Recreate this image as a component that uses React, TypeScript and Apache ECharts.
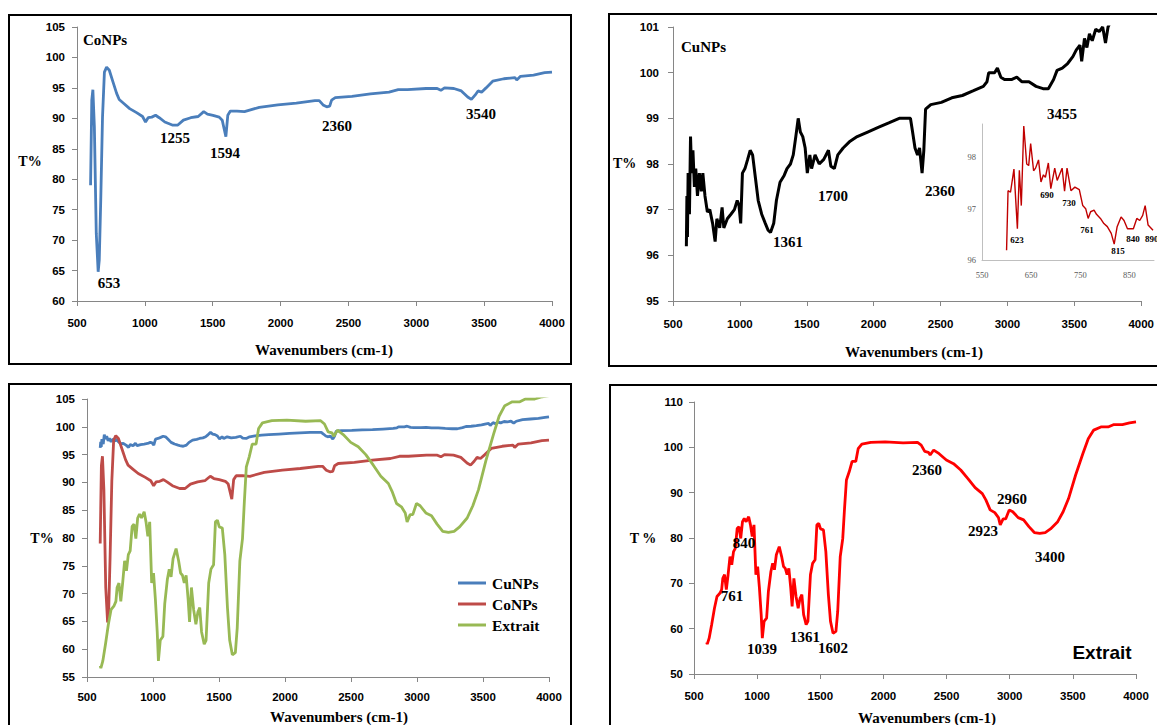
import React, { useEffect, useRef } from 'react';
import * as echarts from 'echarts';

// ---- Data ----
const coWave = [600, 609, 617, 628, 642, 656, 664, 675, 688, 702, 718, 738, 765, 792, 811, 847, 888, 942, 983, 1005, 1024, 1051, 1079, 1106, 1147, 1202, 1243, 1284, 1338, 1393, 1434, 1461, 1502, 1548, 1570, 1584, 1597, 1611, 1630, 1679, 1734, 1843, 1980, 2116, 2253, 2285, 2313, 2340, 2362, 2376, 2403, 2526, 2662, 2799, 2867, 2935, 3072, 3154, 3181, 3208, 3277, 3332, 3379, 3406, 3433, 3455, 3481, 3514, 3563, 3645, 3727, 3740, 3768, 3864, 3946, 4000];
const coT = [79.0, 93.0, 94.7, 88.6, 71.1, 64.8, 66.7, 76.6, 90.2, 97.6, 98.4, 97.9, 96.0, 94.1, 93.1, 92.4, 91.6, 90.9, 90.3, 89.4, 90.1, 90.2, 90.5, 90.1, 89.4, 88.9, 88.9, 89.7, 90.1, 90.3, 91.1, 90.7, 90.5, 90.2, 89.7, 88.3, 87.0, 90.5, 91.2, 91.2, 91.1, 91.8, 92.2, 92.5, 92.9, 92.9, 92.2, 91.9, 92.0, 93.0, 93.4, 93.6, 94.0, 94.3, 94.7, 94.7, 94.9, 94.9, 94.6, 95.0, 94.9, 94.5, 93.5, 93.1, 93.8, 94.5, 94.3, 95.0, 96.1, 96.5, 96.7, 96.3, 96.9, 97.1, 97.5, 97.6];

const cuWave = [600, 604, 608, 613, 623, 631, 639, 649, 660, 670, 683, 697, 712, 723, 739, 757, 775, 796, 815, 828, 849, 867, 880, 906, 933, 959, 980, 993, 1006, 1019, 1038, 1058, 1077, 1095, 1116, 1137, 1163, 1190, 1211, 1229, 1253, 1273, 1300, 1331, 1352, 1378, 1399, 1418, 1436, 1452, 1470, 1488, 1504, 1523, 1536, 1562, 1593, 1627, 1662, 1680, 1706, 1732, 1772, 1824, 1877, 1955, 2034, 2113, 2191, 2257, 2275, 2291, 2309, 2328, 2343, 2362, 2375, 2388, 2427, 2506, 2584, 2663, 2742, 2820, 2847, 2860, 2886, 2904, 2925, 2951, 2978, 3030, 3070, 3109, 3161, 3214, 3266, 3306, 3345, 3371, 3410, 3450, 3489, 3515, 3542, 3555, 3576, 3594, 3613, 3634, 3660, 3686, 3712, 3733, 3752, 3800, 3860, 3920, 3970, 4000];
const cuT = [96.2, 97.3, 96.4, 97.8, 96.9, 98.6, 97.8, 98.3, 97.5, 97.9, 97.3, 97.8, 97.4, 97.8, 97.3, 96.95, 97.0, 96.7, 96.3, 96.8, 96.6, 97.05, 96.6, 96.8, 96.9, 97.0, 97.2, 97.1, 96.7, 97.8, 97.9, 98.1, 98.3, 98.2, 97.7, 97.2, 96.9, 96.7, 96.55, 96.5, 96.7, 97.2, 97.6, 97.75, 97.9, 98.0, 98.2, 98.6, 99.0, 98.7, 98.6, 98.35, 97.8, 98.2, 97.9, 98.2, 98.0, 98.1, 98.3, 97.95, 97.9, 98.2, 98.35, 98.5, 98.6, 98.7, 98.8, 98.9, 99.0, 99.0, 99.0, 98.7, 98.35, 98.2, 98.35, 97.8, 98.3, 99.2, 99.3, 99.35, 99.45, 99.5, 99.6, 99.7, 99.8, 100.0, 100.0, 100.0, 100.1, 99.9, 99.85, 99.85, 99.9, 99.8, 99.8, 99.7, 99.65, 99.65, 99.85, 100.05, 100.1, 100.2, 100.35, 100.5, 100.6, 100.25, 100.75, 100.55, 100.85, 100.7, 100.95, 100.9, 101.0, 100.65, 101.0, 101.3, 101.4, 101.5, 101.7, 101.8];

const exWave = [600, 605, 620, 640, 662, 682, 705, 719, 728, 742, 756, 770, 785, 799, 813, 827, 842, 856, 870, 884, 898, 913, 933, 947, 961, 975, 990, 1004, 1018, 1032, 1041, 1055, 1075, 1089, 1109, 1123, 1137, 1152, 1175, 1194, 1209, 1223, 1237, 1251, 1266, 1277, 1291, 1308, 1325, 1340, 1354, 1368, 1388, 1402, 1422, 1439, 1459, 1473, 1488, 1502, 1525, 1544, 1564, 1581, 1601, 1624, 1638, 1658, 1678, 1692, 1707, 1729, 1752, 1781, 1800, 1829, 1900, 2014, 2156, 2270, 2299, 2327, 2356, 2370, 2398, 2441, 2498, 2555, 2612, 2669, 2726, 2783, 2811, 2845, 2882, 2911, 2925, 2948, 2968, 2996, 3024, 3067, 3110, 3152, 3195, 3238, 3281, 3323, 3380, 3423, 3466, 3522, 3579, 3622, 3665, 3722, 3779, 3821, 3892, 3949, 4000];
const exT = [57.0, 56.6, 57.9, 60.9, 64.5, 67.1, 67.8, 68.6, 71.1, 71.9, 68.6, 71.9, 75.9, 74.1, 77.0, 77.7, 82.1, 82.5, 79.9, 83.6, 84.3, 83.6, 84.7, 82.9, 80.3, 82.9, 71.9, 73.7, 69.0, 63.1, 57.9, 61.6, 62.3, 68.2, 72.6, 74.4, 73.0, 76.3, 78.1, 75.9, 73.7, 73.3, 71.9, 73.3, 69.0, 64.9, 71.1, 67.1, 64.5, 66.7, 67.5, 63.1, 60.9, 61.6, 71.9, 74.4, 75.2, 82.9, 83.2, 82.0, 81.8, 77.0, 67.5, 61.6, 59.0, 59.4, 63.8, 75.9, 79.9, 86.5, 92.8, 94.6, 96.9, 96.9, 99.7, 100.7, 101.1, 101.2, 101.0, 101.1, 100.5, 99.1, 98.9, 98.3, 99.4, 98.6, 97.2, 96.4, 95.0, 93.1, 91.1, 89.8, 88.4, 86.2, 85.6, 84.5, 82.9, 84.2, 84.2, 86.2, 85.8, 84.5, 84.0, 82.5, 81.2, 81.0, 81.2, 82.0, 83.6, 85.8, 88.7, 93.9, 98.6, 101.9, 103.8, 104.5, 104.5, 105.0, 105.0, 105.4, 105.6];

const inWave = [600, 603, 608, 615, 622, 626, 630, 635, 641, 645, 649, 655, 659, 665, 670, 675, 679, 685, 690, 698, 703, 713, 718, 723, 731, 739, 748, 755, 761, 766, 771, 778, 783, 791, 798, 805, 813, 819, 825, 833, 839, 846, 858, 865, 871, 877, 882, 888, 898];
const inT = [96.19, 97.35, 97.32, 97.77, 96.61, 97.75, 97.06, 98.61, 97.87, 97.84, 98.27, 97.74, 97.79, 97.95, 97.52, 97.66, 97.61, 97.89, 97.39, 97.79, 97.55, 97.79, 97.34, 97.79, 97.35, 97.42, 97.37, 97.06, 97.0, 96.81, 96.94, 96.97, 96.89, 96.81, 96.71, 96.65, 96.52, 96.31, 96.65, 96.84, 96.77, 96.61, 96.61, 96.81, 96.77, 96.87, 97.06, 96.68, 96.58];

const legendNames = ['CuNPs', 'CoNPs', 'Extrait'];

const SERIF = '"Liberation Serif", "Times New Roman", serif';
const SANS = '"Liberation Sans", Arial, sans-serif';
const AXIS_GRAY = '#868686';

const zip = (a: number[], b: number[]) => a.map((v, i) => [v, b[i]]);

function xAx(gridIndex: number, margin: number, extra: any = {}) {
  return {
    type: 'value', gridIndex, min: 500, max: 4000, interval: 500,
    axisLine: { show: true, onZero: false, lineStyle: { color: AXIS_GRAY, width: 1 } },
    axisTick: { show: true, length: 5, lineStyle: { color: AXIS_GRAY } },
    splitLine: { show: false },
    axisLabel: {
      margin, color: '#000', fontFamily: SANS, fontWeight: 'bold', fontSize: 11.5,
      formatter: (v: number) => String(v),
    },
    ...extra,
  };
}
function yAx(gridIndex: number, min: number, max: number, interval: number, margin: number, extra: any = {}) {
  return {
    type: 'value', gridIndex, min, max, interval,
    axisLine: { show: true, onZero: false, lineStyle: { color: AXIS_GRAY, width: 1 } },
    axisTick: { show: true, length: 5, lineStyle: { color: AXIS_GRAY } },
    splitLine: { show: false },
    axisLabel: {
      margin, color: '#000', fontFamily: SANS, fontWeight: 'bold', fontSize: 11.5,
      formatter: (v: number) => String(v),
    },
    ...extra,
  };
}

function txt(text: string, x: number, y: number, size = 15, align = 'center', family = SERIF, weight = 'bold', fill = '#000') {
  return {
    type: 'text', x, y, z: 20,
    style: { text, fill, font: `${weight} ${size}px ${family}`, textAlign: align, textVerticalAlign: 'middle' },
  };
}
function box(x: number, y: number, w: number, h: number) {
  return { type: 'rect', z: 20, shape: { x, y, width: w, height: h }, style: { fill: 'none', stroke: '#000', lineWidth: 2 } };
}

function line(name: string, data: number[][], color: string, width: number, axis: number) {
  return {
    type: 'line', name, data, xAxisIndex: axis, yAxisIndex: axis,
    showSymbol: false, symbol: 'none', smooth: false, clip: true,
    lineStyle: { color, width }, itemStyle: { color }, emphasis: { disabled: true },
  };
}

export default function App() {
  const ref = useRef<HTMLDivElement>(null);
  useEffect(() => {
    const chart = echarts.init(ref.current!, null, { renderer: 'svg' });
    const option: any = {
      animation: false,
      backgroundColor: '#fff',
      grid: [
        { left: 77, top: 27, width: 475, height: 274 },
        { left: 673, top: 27, width: 476, height: 274 },
        { left: 87, top: 399, width: 462, height: 278 },
        { left: 694, top: 402, width: 442, height: 272 },
        { left: 982, top: 124, width: 175, height: 136 },
      ],
      xAxis: [
        xAx(0, 16),
        xAx(1, 17),
        xAx(2, 14),
        xAx(3, 16),
        {
          type: 'value', gridIndex: 4, min: 550, max: 900, interval: 50,
          axisLine: { show: true, onZero: false, lineStyle: { color: '#bfbfbf', width: 1 } },
          axisTick: { show: false }, splitLine: { show: false },
          axisLabel: {
            margin: 10, color: '#595959', fontFamily: SERIF, fontSize: 8.5,
            formatter: (v: number) => ((v - 550) % 100 === 0 ? String(v) : ''),
          },
        },
      ],
      yAxis: [
        yAx(0, 60, 105, 5, 12),
        yAx(1, 95, 101, 1, 14),
        yAx(2, 55, 105, 5, 12),
        yAx(3, 50, 110, 10, 11),
        {
          type: 'value', gridIndex: 4, min: 96, max: 98.65, interval: 1,
          axisLine: { show: true, onZero: false, lineStyle: { color: '#bfbfbf', width: 1 } },
          axisTick: { show: false }, splitLine: { show: false },
          axisLabel: { margin: 6, color: '#595959', fontFamily: SERIF, fontSize: 8.5, showMaxLabel: false },
        },
      ],
      legend: {
        data: legendNames,
        orient: 'vertical', left: 453, top: 570, itemGap: 5,
        icon: 'rect', itemWidth: 28, itemHeight: 3,
        textStyle: { fontFamily: SERIF, fontWeight: 'bold', fontSize: 15.5, color: '#000', padding: [0, 0, 0, 1] },
        selectedMode: false,
      },
      series: [
        line('CoNPs-single', zip(coWave, coT), '#4A7EBB', 2.8, 0),
        line('CuNPs-single', zip(cuWave, cuT), '#000000', 3, 1),
        line('CuNPs', zip(cuWave, cuT), '#4A7EBB', 2.8, 2),
        line('CoNPs', zip(coWave, coT), '#BE4B48', 2.8, 2),
        line('Extrait', zip(exWave, exT), '#98B954', 2.8, 2),
        line('Extrait-single', zip(exWave, exT), '#FF0000', 2.8, 3),
        line('CuNPs-inset', zip(inWave, inT), '#C00000', 1.4, 4),
      ],
      graphic: [
        box(9, 15, 562, 349),
        box(609, 14, 620, 352),
        box(9, 384, 562, 400),
        box(610, 385, 620, 400),
        // panel 1
        txt('CoNPs', 83, 40, 15, 'left'),
        txt('653', 109, 283),
        txt('1255', 175, 138),
        txt('1594', 225, 153),
        txt('2360', 337, 126),
        txt('3540', 481, 114),
        txt('T%', 30, 161, 14),
        txt('Wavenumbers (cm-1)', 324, 350, 15),
        // panel 2
        txt('CuNPs', 681, 47, 15, 'left'),
        txt('3455', 1062, 114),
        txt('1361', 788, 242),
        txt('1700', 833, 196),
        txt('2360', 925, 191, 15, 'left'),
        txt('T%', 613, 163, 14, 'left'),
        txt('Wavenumbers (cm-1)', 914, 352, 15),
        txt('623', 1017, 240, 9),
        txt('690', 1047, 195, 9),
        txt('730', 1069, 203, 9),
        txt('761', 1087, 230, 9),
        txt('815', 1118, 251, 9),
        txt('840', 1133, 239, 9),
        txt('890', 1145, 239, 9, 'left'),
        // panel 3
        txt('T%', 42, 538, 14),
        txt('Wavenumbers (cm-1)', 339, 717, 15),
        // panel 4
        txt('T %', 643, 538, 14),
        txt('761', 732, 596),
        txt('840', 744, 543),
        txt('1039', 762, 649),
        txt('1361', 805, 637),
        txt('1602', 833, 648),
        txt('2360', 927, 470),
        txt('2960', 1012, 499),
        txt('2923', 983, 531),
        txt('3400', 1050, 557),
        txt('Extrait', 1102, 652, 19, 'center', SANS),
        txt('Wavenumbers (cm-1)', 927, 718, 15),
      ],
    };
    chart.setOption(option);
    return () => chart.dispose();
  }, []);
  return (
    <div
      ref={ref}
      style={{ position: 'fixed', left: 0, top: 0, width: 1157, height: 725, background: '#fff' }}
    />
  );
}
